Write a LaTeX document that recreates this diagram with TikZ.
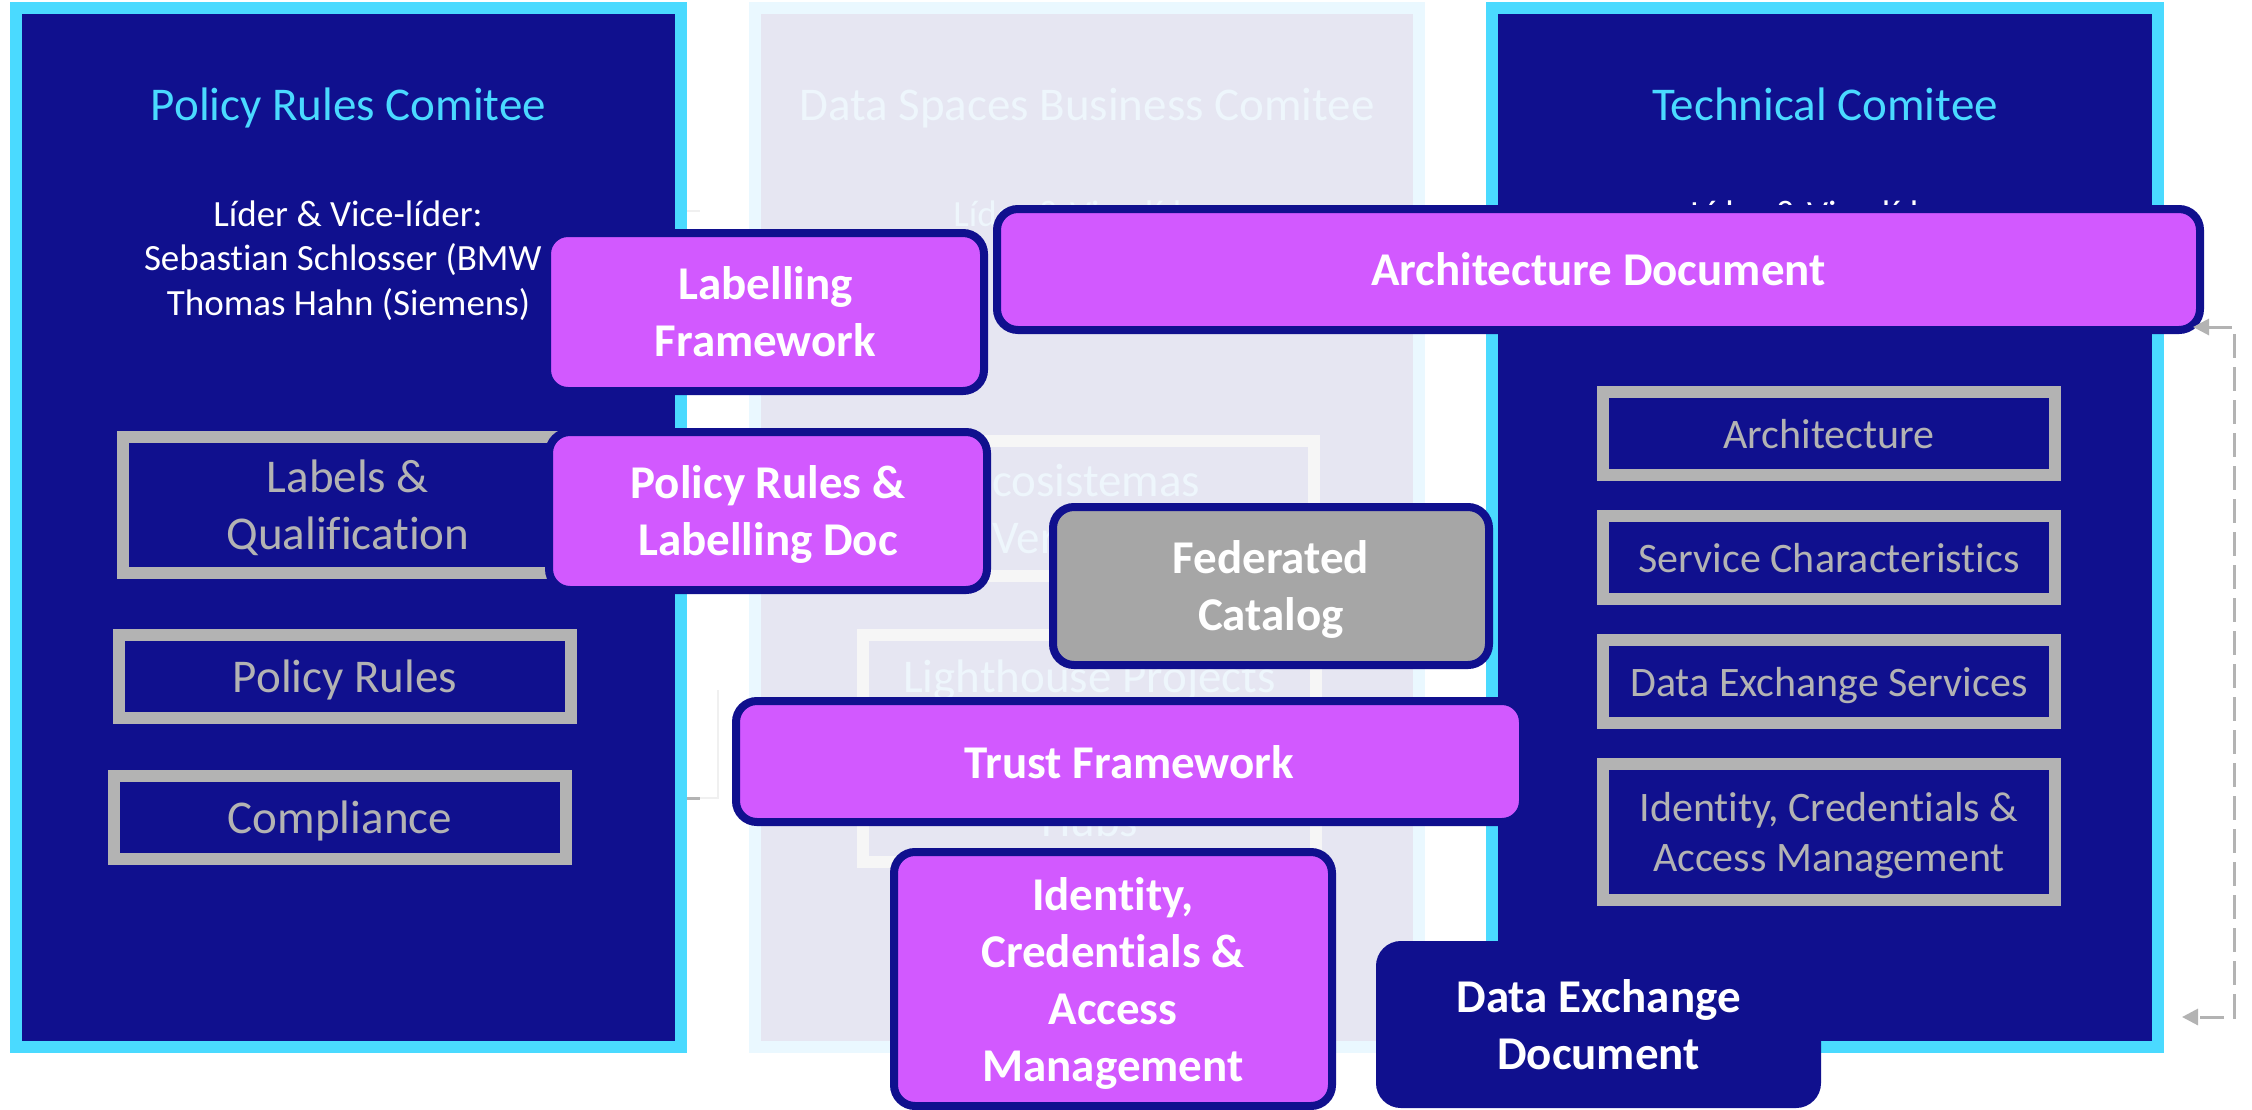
\documentclass[tikz,border=0pt]{standalone}
\usepackage{fontspec}
\setmainfont{Carlito}[Ligatures=NoCommon]
\usetikzlibrary{arrows.meta}

\definecolor{navy}{RGB}{16,16,142}
\definecolor{cyanedge}{RGB}{74,218,255}
\definecolor{boxviolet}{RGB}{210,89,255}
\definecolor{boxgray}{RGB}{179,179,179}
\definecolor{catgray}{RGB}{166,166,166}
\definecolor{midfill}{RGB}{230,230,242}
\definecolor{midedge}{RGB}{234,248,255}
\definecolor{midtext}{RGB}{238,246,252}
\definecolor{midbox}{RGB}{246,246,246}
\definecolor{faint}{RGB}{240,240,240}

\begin{document}
\begin{tikzpicture}[x=1pt,y=-1pt,
  every node/.style={inner sep=0pt,outer sep=0pt},
  panel/.style={draw=cyanedge,fill=navy,line width=12pt},
  fadedpanel/.style={draw=midedge,fill=midfill,line width=12pt},
  paneltitle/.style={font=\fontsize{47}{57}\selectfont,anchor=base},
  lead/.style={font=\fontsize{37}{44.5}\selectfont,anchor=base,text=white},
  topicL/.style={draw=boxgray,fill=navy,line width=12pt,text=boxgray,text depth=0pt,
    align=center,font=\fontsize{47}{57}\selectfont},
  topicR/.style={draw=boxgray,fill=navy,line width=12pt,text=boxgray,text depth=0pt,
    align=center,font=\fontsize{42}{50}\selectfont},
  fadedtopic/.style={draw=midbox,fill=midfill,line width=12pt,text=midtext,text depth=0pt,
    align=center,font=\fontsize{47}{57}\selectfont},
  deliverable/.style={draw=navy,fill=boxviolet,line width=8pt,rounded corners=21pt,
    text=white,text depth=0pt,align=center,font=\bfseries\fontsize{47}{57}\selectfont},
  faintline/.style={draw=faint,line width=2pt},
  feedback/.style={draw=boxgray,line width=3pt,dash pattern=on 24pt off 9pt,
    {Triangle[length=16pt,width=16pt]}-{Triangle[length=16pt,width=16pt]}}
]
\useasboundingbox (0,0) rectangle (2252,1109);
\fill[white] (0,0) rectangle (2252,1109);

% committee columns
\node[panel,minimum width=665pt,minimum height=1039pt] (policy) at (348.5,527.5) {};
\node[fadedpanel,minimum width=664pt,minimum height=1039pt] (business) at (1087,527.5) {};
\node[panel,minimum width=666pt,minimum height=1039pt] (technical) at (1825,527.5) {};

% connector ends between the first two columns
\coordinate (stubA) at (687,798);
\coordinate (stubB) at (718,690);
\coordinate (stubC) at (687,211);
\draw[faintline] (stubA) -| (stubB);
\draw[faintline] (stubC) -- ++(13,0);
\draw[boxgray,line width=3pt] (stubA) -- ++(13,0);

% column headings
\node[paneltitle,text=cyanedge] (policytitle) at (348.5,120) {Policy Rules Comitee};
\node[paneltitle,text=midtext] (businesstitle) at (1087,120) {Data Spaces Business Comitee};
\node[paneltitle,text=cyanedge] (technicaltitle) at (1825,120) {Technical Comitee};

\node[lead] (policylead1) at (348,226) {Líder \& Vice-líder:};
\node[lead,anchor=base west] (policylead2) at (144,270) {Sebastian Schlosser (BMW};
\node[lead] (policylead3) at (348.5,315) {Thomas Hahn (Siemens)};
\node[lead,text=midtext] (businesslead) at (1088,226) {Líder \& Vice-líder:};
\node[lead] (technicallead) at (1825,226) {Líder \& Vice-líder:};

% working groups, policy column
\node[topicL,minimum width=450pt,minimum height=136pt] (labq) at (348,505) {Labels \&\\Qualification};
\node[topicL,minimum width=452pt,minimum height=83pt] (polrules) at (345,676.5) {Policy Rules};
\node[topicL,minimum width=452pt,minimum height=83pt] (compliance) at (340,817.5) {Compliance};

% working groups, business column
\node[fadedtopic,minimum width=458pt,minimum height=135pt] (eco) at (1085,508.5) {Ecosistemas\\Verticales};
\node[fadedtopic,minimum width=453pt,minimum height=227pt] (lighthouse) at (1089.5,748.5) {Lighthouse Projects\\[87pt]Hubs};

% working groups, technical column
\node[topicR,minimum width=452pt,minimum height=83pt] (arch) at (1829,433.5) {Architecture};
\node[topicR,minimum width=452pt,minimum height=83pt] (servc) at (1829,557.5) {Service Characteristics};
\node[topicR,minimum width=452pt,minimum height=83pt] (dxs) at (1829,681.5) {Data Exchange Services};
\node[topicR,minimum width=452pt,minimum height=136pt] (icamR) at (1829,832) {Identity, Credentials \&\\Access Management};

% deliverables
\node[deliverable,minimum width=437pt,minimum height=158pt] (labfw) at (765.5,312) {Labelling\\Framework};
\node[deliverable,minimum width=1203pt,minimum height=121pt] (archdoc) at (1598.5,269.5) {Architecture Document};
\node[deliverable,minimum width=438pt,minimum height=158pt] (prdoc) at (768,511) {Policy Rules \&\\Labelling Doc};
\node[deliverable,fill=catgray,minimum width=436pt,minimum height=158pt] (fedcat) at (1271,586) {Federated\\Catalog};
\node[deliverable,minimum width=787pt,minimum height=121pt] (trustfw) at (1129.5,761.5) {Trust Framework};
\node[deliverable,minimum width=438pt,minimum height=254pt] (icam) at (1113,979) {Identity,\\Credentials \&\\Access\\Management};
\node[deliverable,fill=navy,minimum width=437pt,minimum height=159pt] (dedoc) at (1598.5,1024.5) {Data Exchange\\Document};

% feedback loop on the right
\coordinate (archport) at ([shift={(-7,-3)}]archdoc.south east);
\coordinate (techport) at (2182,1017);
\draw[feedback] (archport) -- ++(41,0) |- (techport);
\end{tikzpicture}
\end{document}
